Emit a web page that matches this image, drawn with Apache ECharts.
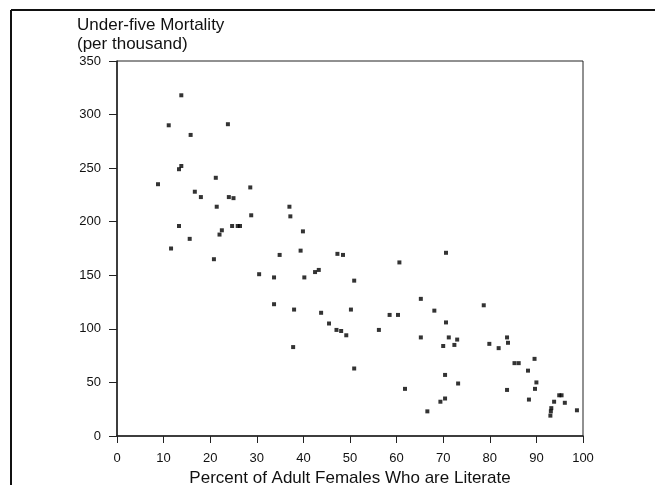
<!DOCTYPE html>
<html>
<head>
<meta charset="utf-8">
<script src="https://cdn.jsdelivr.net/npm/echarts@6/dist/echarts.min.js"></script>
<style>
  html, body { margin: 0; padding: 0; background: #fff; }
  #chart { width: 655px; height: 485px; }
</style>
</head>
<body>
<div id="chart"></div>
<script>
// Female adult literacy (%) for each country
const literacy = [
  8.8, 11.1, 11.6, 13.3, 13.3, 13.8, 13.8, 15.6, 15.8, 16.7,
  18.0, 20.8, 21.2, 21.4, 22.0, 22.5, 23.8, 24.0, 24.7, 25.0,
  25.9, 26.4, 28.6, 28.8, 30.5, 33.7, 33.7, 34.9, 37.0, 37.2,
  38.0, 37.8, 39.4, 39.9, 40.2, 42.5, 43.3, 43.8, 45.5, 47.1,
  47.3, 48.1, 48.5, 49.2, 50.2, 50.9, 50.9, 56.2, 58.5, 60.3,
  60.6, 61.8, 65.2, 65.2, 66.6, 68.1, 69.4, 70.0, 70.4, 70.4,
  70.6, 70.6, 71.2, 72.4, 73.0, 73.2, 78.7, 79.9, 81.9, 83.7,
  83.7, 83.9, 85.3, 86.2, 88.2, 88.4, 89.6, 89.7, 90.0, 93.0,
  93.1, 93.2, 93.8, 94.9, 95.4, 96.1, 98.7
];
// Under-five mortality (per thousand) for the same countries
const mortality = [
  235, 290, 175, 196, 249, 252, 318, 184, 281, 228,
  223, 165, 241, 214, 188, 192, 291, 223, 196, 222,
  196, 196, 232, 206, 151, 148, 123, 169, 214, 205,
  118, 83, 173, 191, 148, 153, 155, 115, 105, 99,
  170, 98, 169, 94, 118, 145, 63, 99, 113, 113,
  162, 44, 128, 92, 23, 117, 32, 84, 57, 35,
  171, 106, 92, 85, 90, 49, 122, 86, 82, 43,
  92, 87, 68, 68, 61, 34, 72, 44, 50, 19,
  23, 26, 32, 38, 38, 31, 24
];
const xTicks = [0, 10, 20, 30, 40, 50, 60, 70, 80, 90, 100];
const yTicks = [0, 50, 100, 150, 200, 250, 300, 350];

const points = literacy.map((v, i) => [v, mortality[i]]);
const font = '"Liberation Sans", Arial, Helvetica, sans-serif';

const chart = echarts.init(document.getElementById('chart'), null, { renderer: 'canvas' });
chart.setOption({
  backgroundColor: '#fff',
  animation: false,
  title: {
    text: 'Under-five Mortality\n(per thousand)',
    left: 72,
    top: 11,
    textStyle: { fontFamily: font, fontSize: 17, fontWeight: 'normal', color: '#111', lineHeight: 19 }
  },
  grid: {
    left: 117, right: 72, top: 61, bottom: 49,
    outerBoundsMode: 'none',
    containLabel: false,
    show: true, borderColor: '#222', borderWidth: 1, backgroundColor: 'transparent'
  },
  xAxis: {
    type: 'value',
    min: xTicks[0], max: xTicks[xTicks.length - 1], interval: 10,
    name: 'Percent of Adult Females Who are Literate',
    nameLocation: 'middle', nameGap: 31,
    nameTextStyle: { fontFamily: font, fontSize: 17, color: '#111' },
    axisLine: { show: true, onZero: false, lineStyle: { color: '#222', width: 1.5 } },
    axisTick: { show: true, inside: false, length: 7, lineStyle: { color: '#222' } },
    axisLabel: { fontFamily: font, fontSize: 13, color: '#111', margin: 16 },
    splitLine: { show: false }
  },
  yAxis: {
    type: 'value',
    min: yTicks[0], max: yTicks[yTicks.length - 1], interval: 50,
    axisLine: { show: true, onZero: false, lineStyle: { color: '#222', width: 1.5 } },
    axisTick: { show: true, inside: false, length: 8, lineStyle: { color: '#222' } },
    axisLabel: { fontFamily: font, fontSize: 13, color: '#111', margin: 16 },
    splitLine: { show: false }
  },
  graphic: [
    { type: 'line', shape: { x1: 11, y1: 10, x2: 11, y2: 485 }, style: { stroke: '#111', lineWidth: 2 } },
    { type: 'line', shape: { x1: 11, y1: 10, x2: 655, y2: 10 }, style: { stroke: '#111', lineWidth: 2 } }
  ],
  series: [{
    type: 'scatter',
    data: points,
    symbol: 'rect',
    symbolSize: 4,
    itemStyle: { color: '#000' }
  }]
});
</script>
</body>
</html>
